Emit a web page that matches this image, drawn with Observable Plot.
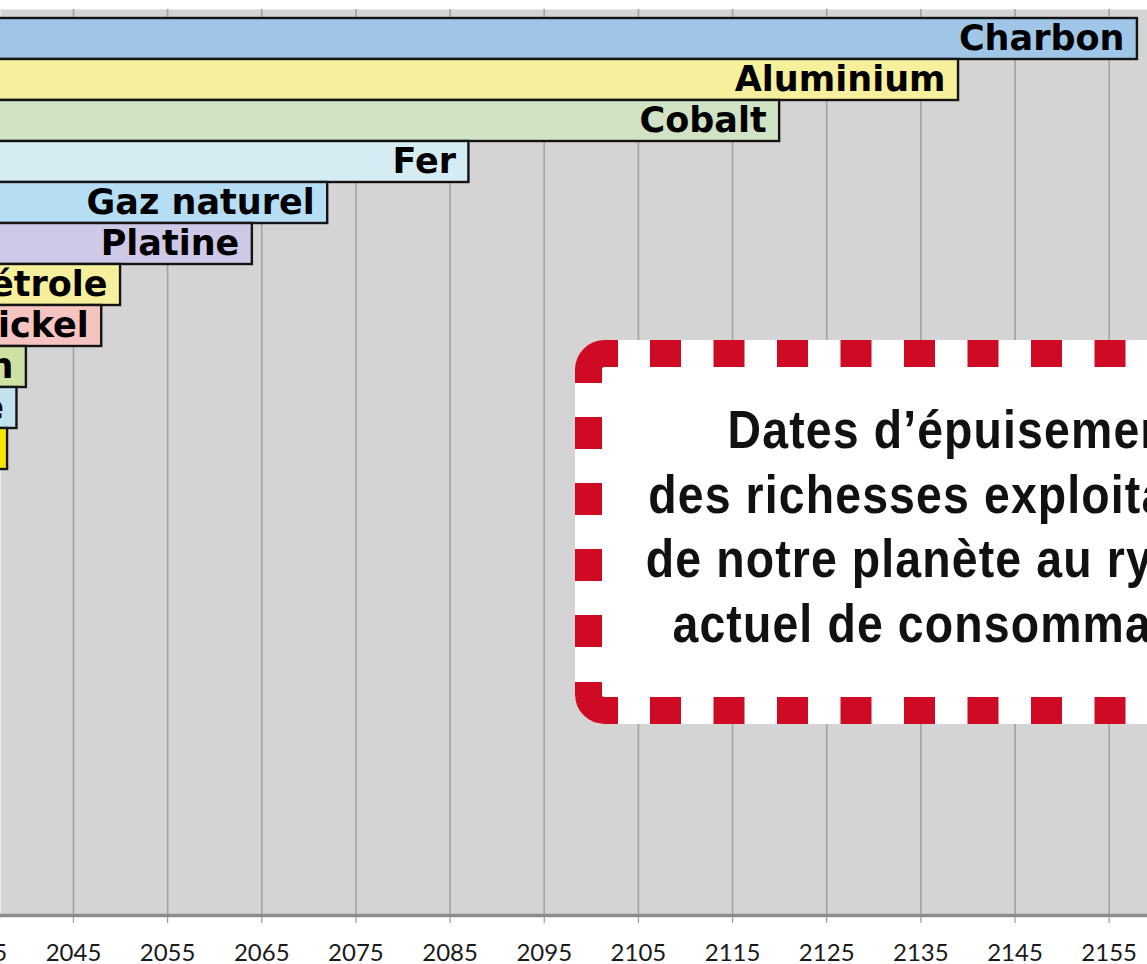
<!DOCTYPE html>
<html>
<head>
<meta charset="utf-8">
<script src="https://cdn.jsdelivr.net/npm/d3@7"></script>
<script src="https://cdn.jsdelivr.net/npm/@observablehq/plot@0.6"></script>
<style>
  html, body { margin: 0; padding: 0; background: #fff; overflow: hidden; }
  #wrap { position: relative; width: 1147px; height: 964px; overflow: hidden; }
  #wrap > svg.overlay { position: absolute; left: 0; top: 0; pointer-events: none; }
</style>
</head>
<body>
<div id="wrap"></div>
<script>
// ---- data ----
const resources = ["Charbon", "Aluminium", "Cobalt", "Fer", "Gaz naturel", "Platine", "Pétrole", "Nickel", "Étain", "Cuivre", "Or"];
const depletionYear = [2158, 2139, 2120, 2087, 2072, 2064, 2050, 2048, 2040, 2039, 2038];
const barColors = ["#9fc6e7", "#f6ef9c", "#d0e3c4", "#d4ecf2", "#b5def4", "#cdc9e6", "#f6ef9c", "#f6c4c0", "#cfe1a2", "#c2e3ee", "#f4e600"];
const tickYears = [2035, 2045, 2055, 2065, 2075, 2085, 2095, 2105, 2115, 2125, 2135, 2145, 2155];
const titleLines = ["Dates d’épuisement", "des richesses exploitables", "de notre planète au rythme", "actuel de consommation"];

const rows = resources.map((name, i) => ({name, year: depletionYear[i], color: barColors[i]}));

const chart = Plot.plot({
  width: 1147,
  height: 964,
  marginTop: 9,
  marginBottom: 49,
  marginLeft: 0,
  marginRight: 0,
  style: {background: "transparent", overflow: "hidden"},
  x: {domain: [2037.25, 2159.07], axis: null, label: null},
  y: {domain: resources, range: [15, 471], padding: 0, axis: null},
  marks: [
    Plot.frame({fill: "#d4d4d4", stroke: null}),
    Plot.gridX(tickYears, {stroke: "#a2a2a2", strokeWidth: 1.6, strokeOpacity: 1}),
    Plot.barX(rows, {
      x1: 2000, x2: "year", y: "name",
      fill: "color", stroke: "#141414", strokeWidth: 2.4,
      clip: true
    }),
    Plot.text(rows, {
      x: "year", y: "name", text: "name",
      textAnchor: "end", dx: -13,
      fontFamily: "DejaVu Sans", fontWeight: "bold", fontSize: 35,
      fill: "#000", clip: true
    }),
    Plot.axisX(tickYears, {
      anchor: "bottom",
      label: null,
      tickSize: 8, tickPadding: 20,
      stroke: "#9a9a9a", strokeWidth: 1.2,
      tickFormat: d => String(d),
      fontFamily: "Lato", fontSize: 24, fill: "#1a1a1a"
    }),
    Plot.frame({anchor: "bottom", stroke: "#8c8c8c", strokeWidth: 3.5})
  ]
});

const wrap = document.getElementById("wrap");
wrap.appendChild(chart);

// ---- title box overlay (annotation) ----
const ov = d3.create("svg")
  .attr("class", "overlay")
  .attr("width", 1147).attr("height", 964);

const red = "#ce0a24";
const L = 575, T = 340, B = 724, sw = 27;
const px = L + sw / 2, ty = T + sw / 2, by = B - sw / 2, r = 16;

ov.append("rect")
  .attr("x", L).attr("y", T).attr("width", 800).attr("height", B - T)
  .attr("rx", r + sw / 2).attr("fill", "#fff");

const g = ov.append("g").attr("fill", "none").attr("stroke", red).attr("stroke-width", sw);
g.append("path").attr("d", `M650,${ty}H1200`).attr("stroke-dasharray", "31 32.5");
g.append("path").attr("d", `M650,${by}H1200`).attr("stroke-dasharray", "31 32.5");
g.append("path").attr("d", `M${px},417V650`).attr("stroke-dasharray", "32 34");
g.append("path").attr("d", `M${px},383V${ty + r}A${r},${r} 0 0 1 ${px + r},${ty}H618`);
g.append("path").attr("d", `M${px},682V${by - r}A${r},${r} 0 0 0 ${px + r},${by}H618`);

const tx = 957;
const baselines = [448, 513, 577, 642];
ov.append("g")
  .attr("transform", `translate(${tx},0) scale(0.86,1)`)
  .attr("font-family", "'Liberation Sans', Arial, sans-serif")
  .attr("font-weight", "bold")
  .attr("font-size", 54)
  .attr("letter-spacing", "1.3px")
  .attr("fill", "#111")
  .attr("text-anchor", "middle")
  .selectAll("text")
  .data(titleLines)
  .join("text")
  .attr("x", 0)
  .attr("y", (d, i) => baselines[i])
  .text(d => d);

wrap.appendChild(ov.node());
</script>
</body>
</html>
